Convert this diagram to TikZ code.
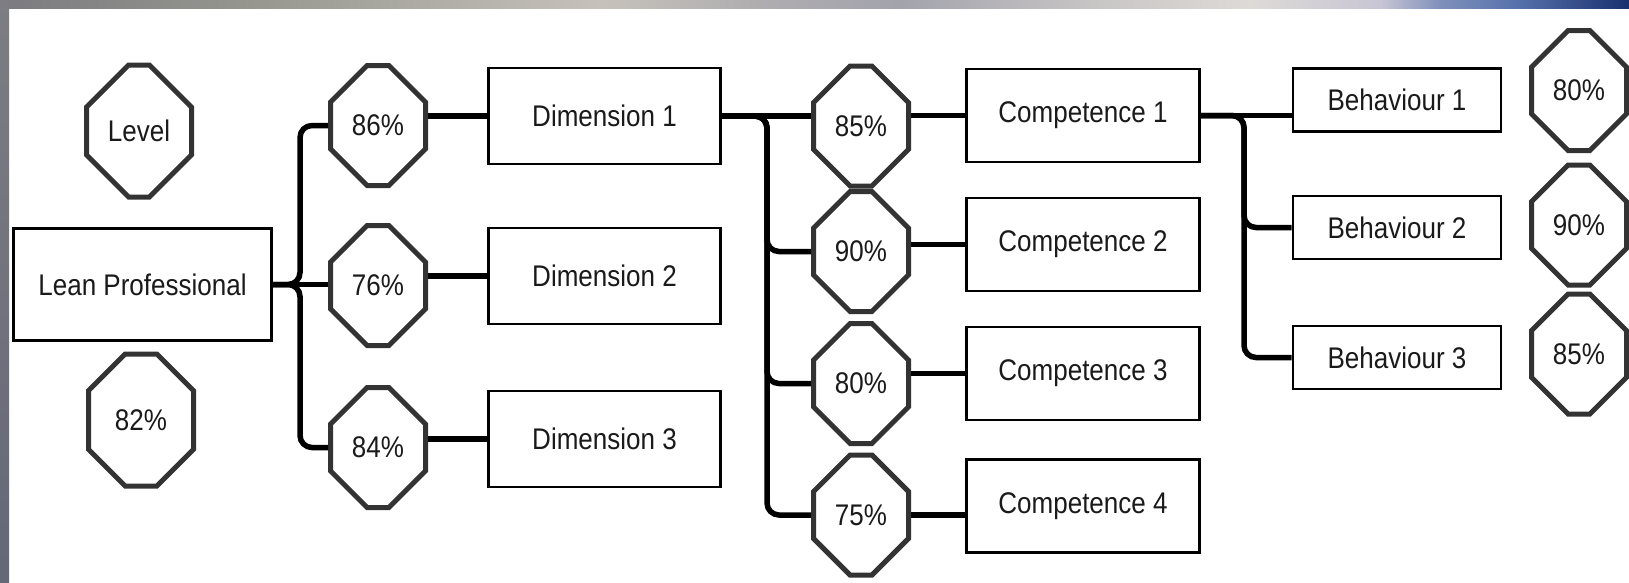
\documentclass[tikz,border=0pt]{standalone}
\usepackage{fontspec}
\setmainfont{Liberation Sans}
\usepackage{graphicx}
\usetikzlibrary{shapes.misc}
\definecolor{tsA}{HTML}{7B7B80}
\definecolor{tsB}{HTML}{96968F}
\definecolor{tsC}{HTML}{C6C2BB}
\definecolor{tsD}{HTML}{B0ADB0}
\definecolor{tsE}{HTML}{A3A3AD}
\definecolor{tsF}{HTML}{C9C6C6}
\definecolor{tsG}{HTML}{DEDAD6}
\definecolor{tsH}{HTML}{C8C6D4}
\definecolor{tsI}{HTML}{8090BB}
\definecolor{tsJ}{HTML}{5470AB}
\definecolor{tsK}{HTML}{19306E}
\definecolor{lsA}{HTML}{7D7D83}
\definecolor{lsB}{HTML}{646877}
\definecolor{octgray}{HTML}{333333}
\definecolor{txtgray}{HTML}{1A1A1A}
\newcommand\stxt[1]{\scalebox{1.02}[1.17]{#1}}
\begin{document}
\begin{tikzpicture}[x=1pt,y=-1pt,
  lbl/.style={font=\fontsize{25.5}{28}\selectfont, text=txtgray},
  box/.style={lbl, draw=black, line width=2.7pt, fill=white, inner sep=0pt},
  oct/.style={lbl, chamfered rectangle, chamfered rectangle xsep=27pt,
    chamfered rectangle ysep=35pt, draw=octgray, line width=5pt,
    fill=white, inner sep=0pt, minimum width=95pt, minimum height=120pt},
  bigoct/.style={oct, minimum width=105pt, minimum height=132pt,
    chamfered rectangle xsep=31pt, chamfered rectangle ysep=38pt},
  dimbox/.style={box, minimum width=232pt, minimum height=96pt},
  compbox/.style={box, minimum width=233pt, minimum height=93pt},
  behbox/.style={box, minimum width=208pt, minimum height=63pt},
  conn/.style={line width=5.5pt, rounded corners=12pt, draw=black}]
% background
\useasboundingbox (0,0) rectangle (1629,582);
\fill[white] (0,0) rectangle (1629,582);
\shade[left color=tsA, right color=tsB] (0,0) rectangle (250,8);
\shade[left color=tsB, right color=tsC] (250,0) rectangle (600,8);
\shade[left color=tsC, right color=tsD] (600,0) rectangle (760,8);
\shade[left color=tsD, right color=tsE] (760,0) rectangle (900,8);
\shade[left color=tsE, right color=tsF] (900,0) rectangle (1100,8);
\shade[left color=tsF, right color=tsG] (1100,0) rectangle (1250,8);
\shade[left color=tsG, right color=tsH] (1250,0) rectangle (1380,8);
\shade[left color=tsH, right color=tsI] (1380,0) rectangle (1440,8);
\shade[left color=tsI, right color=tsJ] (1440,0) rectangle (1520,8);
\shade[left color=tsJ, right color=tsK] (1520,0) rectangle (1629,8);
\shade[top color=lsA, bottom color=lsB] (0,0) rectangle (9,582);

% branch columns
\coordinate (bx1) at (300,0);
\coordinate (bx2) at (767,0);
\coordinate (bx3) at (1244,0);

% left column
\node[bigoct] (lvl) at (139,131) {\stxt{Level}};
\node[box, minimum width=258pt, minimum height=112pt] (lean) at (142.5,284.5) {\stxt{Lean Professional}};
\node[bigoct] (tot) at (141,420) {\stxt{82\%}};

% dimension level
\node[oct] (o86) at (378,125.5) {\stxt{86\%}};
\node[oct] (o76) at (378,285.5) {\stxt{76\%}};
\node[oct] (o84) at (378,447.5) {\stxt{84\%}};
\node[dimbox] (d1) at (604.5,116) {\stxt{Dimension 1}};
\node[dimbox] (d2) at (604.5,276) {\stxt{Dimension 2}};
\node[dimbox] (d3) at (604.5,439) {\stxt{Dimension 3}};

% competence level
\node[oct] (o85) at (861,126) {\stxt{85\%}};
\node[oct] (o90) at (861,251.5) {\stxt{90\%}};
\node[oct] (o80) at (861,383.5) {\stxt{80\%}};
\node[oct] (o75) at (861,515) {\stxt{75\%}};
\node[compbox] (c1) at (1083,115.5) {\stxt{Competence 1}};
\node[compbox] (c2) at (1083,244.5) {\stxt{Competence 2}};
\node[compbox] (c3) at (1083,373.5) {\stxt{Competence 3}};
\node[compbox] (c4) at (1083,506) {\stxt{Competence 4}};

% behaviour level
\node[behbox] (b1) at (1397,100) {\stxt{Behaviour 1}};
\node[behbox] (b2) at (1397,227.5) {\stxt{Behaviour 2}};
\node[behbox] (b3) at (1397,357.5) {\stxt{Behaviour 3}};
\node[oct] (r80) at (1579,90.5) {\stxt{80\%}};
\node[oct] (r90) at (1579,225) {\stxt{90\%}};
\node[oct] (r85) at (1579,354) {\stxt{85\%}};

% connectors: lean professional
\draw[conn] (lean.east) -- (o76.west |- lean.east);
\draw[conn] (lean.east) -- (bx1 |- lean.east) |- (o86.west);
\draw[conn] (lean.east) -- (bx1 |- lean.east) |- (o84.west);
\draw[conn] (o86.east |- d1.west) -- (d1.west);
\draw[conn] (o76.east |- d2.west) -- (d2.west);
\draw[conn] (o84.east |- d3.west) -- (d3.west);

% connectors: dimension 1
\draw[conn] (d1.east) -- (o85.west |- d1.east);
\draw[conn] (d1.east) -- (bx2 |- d1.east) |- (o90.west);
\draw[conn] (d1.east) -- (bx2 |- d1.east) |- (o80.west);
\draw[conn] (d1.east) -- (bx2 |- d1.east) |- (o75.west);
\draw[conn] (o85.east |- c1.west) -- (c1.west);
\draw[conn] (o90.east |- c2.west) -- (c2.west);
\draw[conn] (o80.east |- c3.west) -- (c3.west);
\draw[conn] (o75.east) -- (c4.west |- o75.east);

% connectors: competence 1
\draw[conn] (c1.east) -- (b1.west |- c1.east);
\draw[conn] (c1.east) -- (bx3 |- c1.east) |- (b2.west);
\draw[conn] (c1.east) -- (bx3 |- c1.east) |- (b3.west);
\end{tikzpicture}
\end{document}
